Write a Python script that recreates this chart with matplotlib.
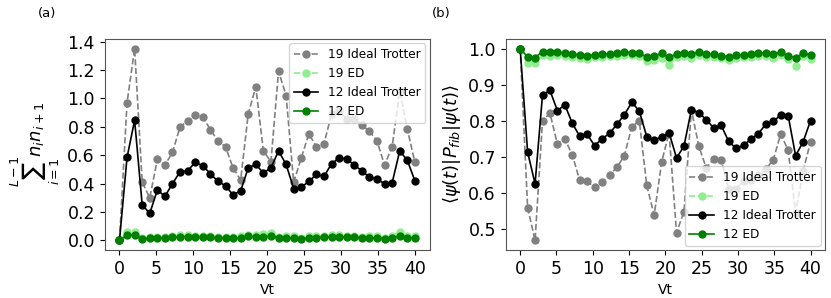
import numpy as np
import matplotlib
matplotlib.use("Agg")
import matplotlib.pyplot as plt

# time grid: 40 steps from 0 to 40
vt = np.linspace(0, 40, 40)

# (a) sum of n_i n_{i+1}
nn_19_trotter = [0.0, 0.97, 1.35, 0.41, 0.30, 0.57, 0.53, 0.62, 0.80, 0.84,
                 0.88, 0.87, 0.78, 0.70, 0.66, 0.51, 0.425, 0.89, 1.08, 0.63,
                 0.555, 1.19, 1.02, 0.41, 0.58, 0.75, 0.66, 0.68, 0.89, 0.91,
                 0.855, 0.855, 0.81, 0.77, 0.70, 0.53, 0.66, 1.05, 0.785, 0.55]
nn_19_ed = [0.0, 0.058, 0.058, 0.02, 0.025, 0.022, 0.025, 0.03, 0.035, 0.035,
            0.034, 0.03, 0.028, 0.025, 0.022, 0.024, 0.03, 0.04, 0.038, 0.042,
            0.055, 0.025, 0.028, 0.03, 0.018, 0.028, 0.03, 0.034, 0.038, 0.036,
            0.032, 0.03, 0.026, 0.028, 0.03, 0.02, 0.032, 0.06, 0.028, 0.03]
nn_12_trotter = [0.0, 0.585, 0.846, 0.25, 0.19, 0.355, 0.31, 0.40, 0.484, 0.49,
                 0.55, 0.525, 0.47, 0.415, 0.385, 0.32, 0.35, 0.51, 0.535, 0.475,
                 0.51, 0.63, 0.535, 0.365, 0.375, 0.415, 0.465, 0.45, 0.54, 0.58,
                 0.575, 0.53, 0.49, 0.445, 0.43, 0.40, 0.405, 0.63, 0.565, 0.42]
nn_12_ed = [0.0, 0.035, 0.038, 0.01, 0.015, 0.016, 0.018, 0.022, 0.025, 0.027,
            0.027, 0.025, 0.022, 0.018, 0.015, 0.014, 0.017, 0.028, 0.024, 0.022,
            0.032, 0.018, 0.016, 0.015, 0.01, 0.018, 0.02, 0.024, 0.026, 0.025,
            0.024, 0.022, 0.02, 0.015, 0.018, 0.012, 0.02, 0.032, 0.02, 0.02]

# (b) <psi|P_fib|psi>
pf_19_trotter = [1.0, 0.559, 0.468, 0.80, 0.821, 0.735, 0.75, 0.705, 0.635, 0.632,
                 0.615, 0.63, 0.649, 0.671, 0.703, 0.784, 0.80, 0.621, 0.538, 0.685,
                 0.767, 0.49, 0.547, 0.83, 0.729, 0.669, 0.694, 0.692, 0.611, 0.611,
                 0.632, 0.637, 0.65, 0.665, 0.692, 0.763, 0.718, 0.545, 0.66, 0.741]
pf_19_ed = [1.0, 0.96, 0.959, 0.982, 0.98, 0.982, 0.979, 0.977, 0.975, 0.972,
            0.976, 0.977, 0.979, 0.98, 0.982, 0.981, 0.98, 0.965, 0.968, 0.975,
            0.955, 0.977, 0.979, 0.975, 0.982, 0.976, 0.977, 0.973, 0.969, 0.975,
            0.976, 0.978, 0.98, 0.98, 0.975, 0.982, 0.97, 0.953, 0.98, 0.972]
pf_12_trotter = [1.0, 0.713, 0.625, 0.872, 0.884, 0.828, 0.844, 0.793, 0.757, 0.762,
                 0.731, 0.75, 0.765, 0.79, 0.817, 0.851, 0.827, 0.756, 0.746, 0.755,
                 0.767, 0.697, 0.729, 0.831, 0.822, 0.803, 0.78, 0.787, 0.743, 0.723,
                 0.732, 0.749, 0.764, 0.791, 0.798, 0.816, 0.814, 0.703, 0.741, 0.80]
pf_12_ed = [1.0, 0.977, 0.975, 0.992, 0.99, 0.99, 0.988, 0.986, 0.982, 0.98,
            0.983, 0.984, 0.986, 0.987, 0.99, 0.989, 0.988, 0.977, 0.979, 0.987,
            0.976, 0.985, 0.987, 0.986, 0.99, 0.985, 0.984, 0.98, 0.978, 0.982,
            0.983, 0.985, 0.987, 0.988, 0.986, 0.99, 0.98, 0.975, 0.987, 0.983]

labels = ["19 Ideal Trotter", "19 ED", "12 Ideal Trotter", "12 ED"]
colors = ["gray", "lightgreen", "black", "green"]
styles = ["--", "--", "-", "-"]


def draw(ax, series, ylabel, legend_loc):
    for y, lab, c, ls in zip(series, labels, colors, styles):
        ax.plot(vt, y, ls, color=c, marker="o", markersize=5, linewidth=1.2,
                label=lab)
    ax.set_xlabel("Vt", fontsize=10)
    ax.set_ylabel(ylabel, fontsize=13)
    ax.set_xticks(np.arange(0, 41, 5))
    ax.tick_params(labelsize=12.5)
    for s in ax.spines.values():
        s.set_color("#555555")
    ax.legend(loc=legend_loc, fontsize=8.7, borderaxespad=0.35)


fig = plt.figure(figsize=(8.31, 2.98), dpi=100)
ax1 = fig.add_axes([0.126, 0.161, 0.391, 0.708])
ax2 = fig.add_axes([0.6085, 0.161, 0.3843, 0.708])

draw(ax1, [nn_19_trotter, nn_19_ed, nn_12_trotter, nn_12_ed],
     r"$\sum_{i=1}^{L-1} n_i n_{i+1}$", "upper right")
ax1.set_yticks(np.arange(0, 1.41, 0.2))

draw(ax2, [pf_19_trotter, pf_19_ed, pf_12_trotter, pf_12_ed],
     r"$\langle\psi(t)|P_{fib}|\psi(t)\rangle$", "lower right")
ax2.set_yticks(np.arange(0.5, 1.01, 0.1))

fig.text(0.045, 0.975, "(a)", fontsize=9.5, va="top")
fig.text(0.52, 0.975, "(b)", fontsize=9.5, va="top")

fig.savefig("out.png", dpi=100)
